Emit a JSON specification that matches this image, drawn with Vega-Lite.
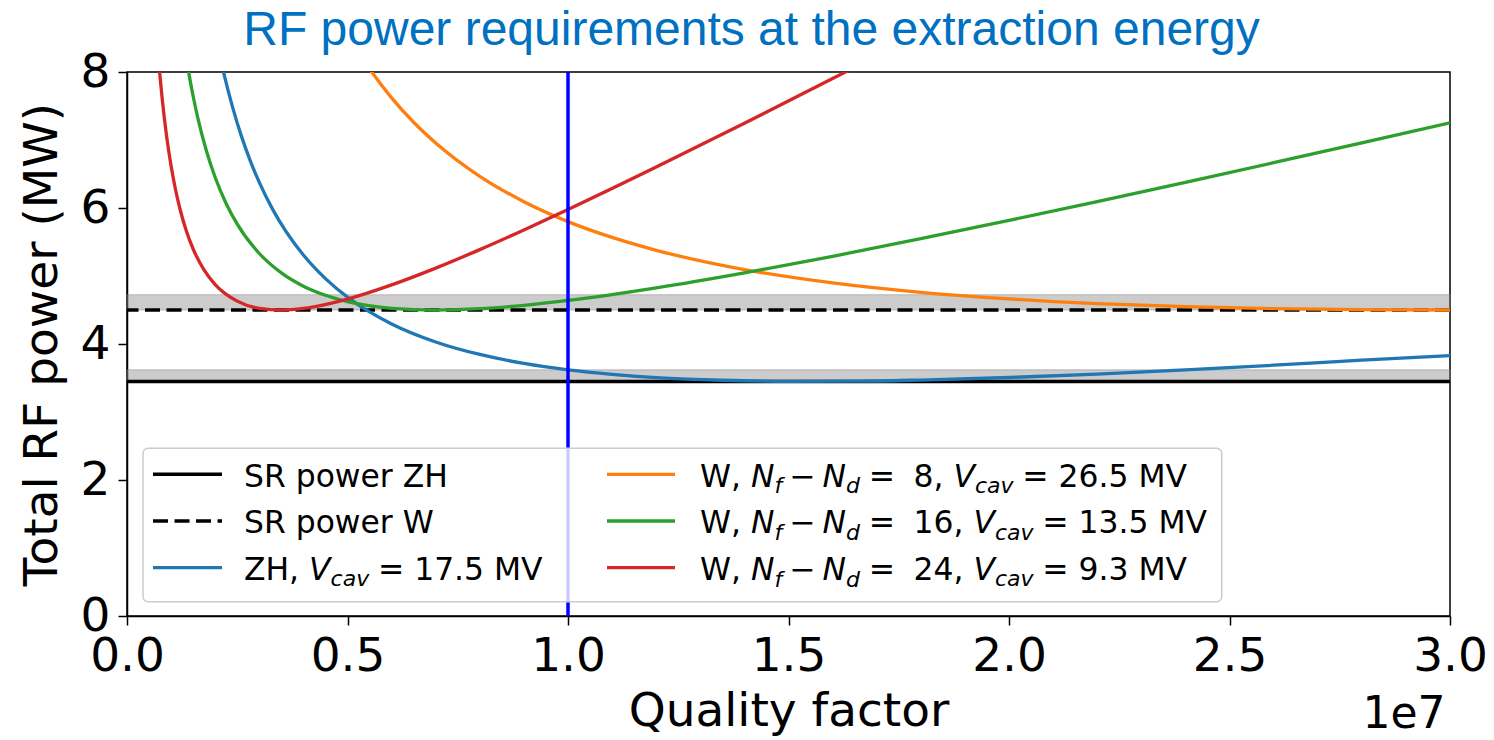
{
  "$schema": "https://vega.github.io/schema/vega-lite/v6.json",
  "width": 1323,
  "height": 544,
  "autosize": {"type": "none"},
  "padding": {"left": 127, "top": 72, "right": 44, "bottom": 124},
  "background": "white",
  "title": {
    "text": "RF power requirements at the extraction energy",
    "font": "Liberation Sans",
    "fontSize": 48,
    "fontWeight": "normal",
    "color": "#0070C0",
    "anchor": "middle",
    "frame": "group",
    "dx": -37,
    "dy": 9,
    "offset": 2
  },
  "config": {
    "font": "DejaVu Sans",
    "view": {"stroke": "black", "strokeWidth": 1.5},
    "axis": {
      "grid": false,
      "domainColor": "black",
      "domainWidth": 1.5,
      "tickColor": "black",
      "tickWidth": 1.5,
      "tickSize": 9,
      "labelFont": "DejaVu Sans",
      "labelFontSize": 47,
      "labelColor": "black",
      "titleFont": "DejaVu Sans",
      "titleFontSize": 47,
      "titleFontWeight": "normal",
      "titleColor": "black"
    }
  },
  "datasets": {
    "curves": [
      {"series": "ZH 17.5 MV", "q": 0.18, "p": 9.309},
      {"series": "ZH 17.5 MV", "q": 0.19, "p": 8.92},
      {"series": "ZH 17.5 MV", "q": 0.2, "p": 8.57},
      {"series": "ZH 17.5 MV", "q": 0.21, "p": 8.255},
      {"series": "ZH 17.5 MV", "q": 0.22, "p": 7.968},
      {"series": "ZH 17.5 MV", "q": 0.24, "p": 7.468},
      {"series": "ZH 17.5 MV", "q": 0.26, "p": 7.046},
      {"series": "ZH 17.5 MV", "q": 0.28, "p": 6.687},
      {"series": "ZH 17.5 MV", "q": 0.3, "p": 6.377},
      {"series": "ZH 17.5 MV", "q": 0.33, "p": 5.984},
      {"series": "ZH 17.5 MV", "q": 0.36, "p": 5.66},
      {"series": "ZH 17.5 MV", "q": 0.4, "p": 5.308},
      {"series": "ZH 17.5 MV", "q": 0.45, "p": 4.961},
      {"series": "ZH 17.5 MV", "q": 0.5, "p": 4.689},
      {"series": "ZH 17.5 MV", "q": 0.55, "p": 4.472},
      {"series": "ZH 17.5 MV", "q": 0.6, "p": 4.295},
      {"series": "ZH 17.5 MV", "q": 0.7, "p": 4.03},
      {"series": "ZH 17.5 MV", "q": 0.8, "p": 3.846},
      {"series": "ZH 17.5 MV", "q": 0.9, "p": 3.714},
      {"series": "ZH 17.5 MV", "q": 1.0, "p": 3.62},
      {"series": "ZH 17.5 MV", "q": 1.1, "p": 3.554},
      {"series": "ZH 17.5 MV", "q": 1.2, "p": 3.507},
      {"series": "ZH 17.5 MV", "q": 1.35, "p": 3.467},
      {"series": "ZH 17.5 MV", "q": 1.5, "p": 3.451},
      {"series": "ZH 17.5 MV", "q": 1.65, "p": 3.453},
      {"series": "ZH 17.5 MV", "q": 1.8, "p": 3.47},
      {"series": "ZH 17.5 MV", "q": 2.0, "p": 3.507},
      {"series": "ZH 17.5 MV", "q": 2.2, "p": 3.558},
      {"series": "ZH 17.5 MV", "q": 2.4, "p": 3.619},
      {"series": "ZH 17.5 MV", "q": 2.6, "p": 3.688},
      {"series": "ZH 17.5 MV", "q": 2.8, "p": 3.764},
      {"series": "ZH 17.5 MV", "q": 3.0, "p": 3.83},

      {"series": "W 8", "q": 0.5, "p": 8.563},
      {"series": "W 8", "q": 0.55, "p": 8.047},
      {"series": "W 8", "q": 0.6, "p": 7.62},
      {"series": "W 8", "q": 0.65, "p": 7.261},
      {"series": "W 8", "q": 0.7, "p": 6.956},
      {"series": "W 8", "q": 0.8, "p": 6.466},
      {"series": "W 8", "q": 0.9, "p": 6.093},
      {"series": "W 8", "q": 1.0, "p": 5.8},
      {"series": "W 8", "q": 1.1, "p": 5.567},
      {"series": "W 8", "q": 1.2, "p": 5.378},
      {"series": "W 8", "q": 1.4, "p": 5.094},
      {"series": "W 8", "q": 1.6, "p": 4.898},
      {"series": "W 8", "q": 1.8, "p": 4.76},
      {"series": "W 8", "q": 2.0, "p": 4.663},
      {"series": "W 8", "q": 2.2, "p": 4.595},
      {"series": "W 8", "q": 2.4, "p": 4.549},
      {"series": "W 8", "q": 2.6, "p": 4.52},
      {"series": "W 8", "q": 2.8, "p": 4.505},
      {"series": "W 8", "q": 3.0, "p": 4.5},

      {"series": "W 16", "q": 0.12, "p": 8.87},
      {"series": "W 16", "q": 0.13, "p": 8.396},
      {"series": "W 16", "q": 0.14, "p": 7.991},
      {"series": "W 16", "q": 0.15, "p": 7.643},
      {"series": "W 16", "q": 0.16, "p": 7.341},
      {"series": "W 16", "q": 0.18, "p": 6.841},
      {"series": "W 16", "q": 0.2, "p": 6.448},
      {"series": "W 16", "q": 0.225, "p": 6.063},
      {"series": "W 16", "q": 0.25, "p": 5.762},
      {"series": "W 16", "q": 0.3, "p": 5.331},
      {"series": "W 16", "q": 0.35, "p": 5.045},
      {"series": "W 16", "q": 0.4, "p": 4.85},
      {"series": "W 16", "q": 0.45, "p": 4.716},
      {"series": "W 16", "q": 0.5, "p": 4.624},
      {"series": "W 16", "q": 0.6, "p": 4.525},
      {"series": "W 16", "q": 0.7, "p": 4.499},
      {"series": "W 16", "q": 0.8, "p": 4.519},
      {"series": "W 16", "q": 0.9, "p": 4.569},
      {"series": "W 16", "q": 1.0, "p": 4.64},
      {"series": "W 16", "q": 1.2, "p": 4.825},
      {"series": "W 16", "q": 1.4, "p": 5.046},
      {"series": "W 16", "q": 1.6, "p": 5.29},
      {"series": "W 16", "q": 1.8, "p": 5.548},
      {"series": "W 16", "q": 2.0, "p": 5.818},
      {"series": "W 16", "q": 2.2, "p": 6.095},
      {"series": "W 16", "q": 2.4, "p": 6.378},
      {"series": "W 16", "q": 2.6, "p": 6.666},
      {"series": "W 16", "q": 2.8, "p": 6.957},
      {"series": "W 16", "q": 3.0, "p": 7.251},

      {"series": "W 24", "q": 0.06, "p": 9.265},
      {"series": "W 24", "q": 0.065, "p": 8.747},
      {"series": "W 24", "q": 0.07, "p": 8.304},
      {"series": "W 24", "q": 0.075, "p": 7.923},
      {"series": "W 24", "q": 0.08, "p": 7.593},
      {"series": "W 24", "q": 0.09, "p": 7.046},
      {"series": "W 24", "q": 0.1, "p": 6.617},
      {"series": "W 24", "q": 0.11, "p": 6.272},
      {"series": "W 24", "q": 0.12, "p": 5.989},
      {"series": "W 24", "q": 0.135, "p": 5.654},
      {"series": "W 24", "q": 0.15, "p": 5.397},
      {"series": "W 24", "q": 0.175, "p": 5.086},
      {"series": "W 24", "q": 0.2, "p": 4.874},
      {"series": "W 24", "q": 0.25, "p": 4.63},
      {"series": "W 24", "q": 0.3, "p": 4.524},
      {"series": "W 24", "q": 0.35, "p": 4.498},
      {"series": "W 24", "q": 0.4, "p": 4.523},
      {"series": "W 24", "q": 0.5, "p": 4.661},
      {"series": "W 24", "q": 0.6, "p": 4.869},
      {"series": "W 24", "q": 0.7, "p": 5.116},
      {"series": "W 24", "q": 0.8, "p": 5.388},
      {"series": "W 24", "q": 0.9, "p": 5.677},
      {"series": "W 24", "q": 1.0, "p": 5.978},
      {"series": "W 24", "q": 1.2, "p": 6.602},
      {"series": "W 24", "q": 1.4, "p": 7.247},
      {"series": "W 24", "q": 1.6, "p": 7.903},
      {"series": "W 24", "q": 1.7, "p": 8.235}
    ],
    "one": [{}]
  },
  "encoding": {
    "x": {
      "type": "quantitative",
      "scale": {"domain": [0, 3], "nice": false, "zero": false},
      "axis": {
        "title": "Quality factor",
        "values": [0, 0.5, 1, 1.5, 2, 2.5, 3],
        "format": ".1f",
        "labelPadding": 8,
        "titlePadding": 9,
        "labelFlush": false
      }
    },
    "y": {
      "type": "quantitative",
      "scale": {"domain": [0, 8], "nice": false, "zero": false},
      "axis": {
        "title": "Total RF power (MW)",
        "values": [0, 2, 4, 6, 8],
        "labelPadding": 8,
        "titlePadding": 14,
        "labelFlush": false
      }
    }
  },
  "layer": [
    {
      "description": "tolerance band above the ZH synchrotron-radiation power",
      "data": {"name": "one"},
      "mark": {"type": "rect", "fill": "#808080", "fillOpacity": 0.4, "stroke": "#808080", "strokeOpacity": 0.45, "strokeWidth": 1},
      "encoding": {"x": {"datum": 0}, "x2": {"datum": 3}, "y": {"datum": 3.45}, "y2": {"datum": 3.62}}
    },
    {
      "description": "tolerance band above the W synchrotron-radiation power",
      "data": {"name": "one"},
      "mark": {"type": "rect", "fill": "#808080", "fillOpacity": 0.4, "stroke": "#808080", "strokeOpacity": 0.45, "strokeWidth": 1},
      "encoding": {"x": {"datum": 0}, "x2": {"datum": 3}, "y": {"datum": 4.5}, "y2": {"datum": 4.725}}
    },
    {
      "description": "SR power ZH",
      "data": {"name": "one"},
      "mark": {"type": "rule", "color": "black", "strokeWidth": 3.5},
      "encoding": {"y": {"datum": 3.45}}
    },
    {
      "description": "SR power W",
      "data": {"name": "one"},
      "mark": {"type": "rule", "color": "black", "strokeWidth": 3.5, "strokeDash": [15, 6.5]},
      "encoding": {"y": {"datum": 4.5}}
    },
    {
      "data": {"name": "curves"},
      "mark": {"type": "line", "clip": true, "strokeWidth": 3.3, "interpolate": "monotone"},
      "encoding": {
        "x": {"field": "q", "type": "quantitative"},
        "y": {"field": "p", "type": "quantitative"},
        "color": {
          "field": "series",
          "type": "nominal",
          "scale": {
            "domain": ["ZH 17.5 MV", "W 8", "W 16", "W 24"],
            "range": ["#1f77b4", "#ff7f0e", "#2ca02c", "#d62728"]
          },
          "legend": null
        }
      }
    },
    {
      "description": "operating quality factor",
      "data": {"name": "one"},
      "mark": {"type": "rule", "color": "#0000ff", "strokeWidth": 3.5},
      "encoding": {"x": {"datum": 1}}
    },
    {
      "description": "legend frame",
      "data": {"name": "one"},
      "mark": {"type": "rect", "fill": "white", "fillOpacity": 0.8, "stroke": "#cccccc", "strokeWidth": 1.5, "cornerRadius": 5},
      "encoding": {"x": {"datum": 0.0363}, "x2": {"datum": 2.4823}, "y": {"datum": 2.466}, "y2": {"datum": 0.21}}
    },
    {
      "data": {"name": "one"},
      "mark": {"type": "rule", "color": "black", "strokeWidth": 3.5},
      "encoding": {"x": {"datum": 0.059}, "x2": {"datum": 0.2154}, "y": {"datum": 2.084}}
    },
    {
      "data": {"name": "one"},
      "mark": {"type": "rule", "color": "black", "strokeWidth": 3.5, "strokeDash": [15, 6.5]},
      "encoding": {"x": {"datum": 0.059}, "x2": {"datum": 0.2154}, "y": {"datum": 1.397}}
    },
    {
      "data": {"name": "one"},
      "mark": {"type": "rule", "color": "#1f77b4", "strokeWidth": 3.3},
      "encoding": {"x": {"datum": 0.059}, "x2": {"datum": 0.2154}, "y": {"datum": 0.71}}
    },
    {
      "data": {"name": "one"},
      "mark": {"type": "rule", "color": "#ff7f0e", "strokeWidth": 3.3},
      "encoding": {"x": {"datum": 1.0884}, "x2": {"datum": 1.2426}, "y": {"datum": 2.084}}
    },
    {
      "data": {"name": "one"},
      "mark": {"type": "rule", "color": "#2ca02c", "strokeWidth": 3.3},
      "encoding": {"x": {"datum": 1.0884}, "x2": {"datum": 1.2426}, "y": {"datum": 1.397}}
    },
    {
      "data": {"name": "one"},
      "mark": {"type": "rule", "color": "#d62728", "strokeWidth": 3.3},
      "encoding": {"x": {"datum": 1.0884}, "x2": {"datum": 1.2426}, "y": {"datum": 0.71}}
    },
    {
      "data": {"name": "one"},
      "mark": {"type": "text", "text": ["SR power ZH", "SR power W", "ZH,"], "align": "left", "baseline": "alphabetic", "fontSize": 31.4, "lineHeight": 46.7, "color": "black"},
      "encoding": {"x": {"datum": 0.2653}, "y": {"datum": 1.901}}
    },
    {
      "data": {"name": "one"},
      "mark": {"type": "text", "text": "V", "align": "left", "baseline": "alphabetic", "fontSize": 31.4, "fontStyle": "italic", "color": "black"},
      "encoding": {"x": {"datum": 0.4129}, "y": {"datum": 0.529}}
    },
    {
      "data": {"name": "one"},
      "mark": {"type": "text", "text": "cav", "align": "left", "baseline": "alphabetic", "fontSize": 22, "fontStyle": "italic", "color": "black"},
      "encoding": {"x": {"datum": 0.4617}, "y": {"datum": 0.434}}
    },
    {
      "data": {"name": "one"},
      "mark": {"type": "text", "text": "= 17.5 MV", "align": "left", "baseline": "alphabetic", "fontSize": 31.4, "color": "black"},
      "encoding": {"x": {"datum": 0.5689}, "y": {"datum": 0.529}}
    },
    {
      "data": {"name": "one"},
      "mark": {"type": "text", "text": ["W,", "W,", "W,"], "align": "left", "baseline": "alphabetic", "fontSize": 31.4, "lineHeight": 46.7, "color": "black"},
      "encoding": {"x": {"datum": 1.2993}, "y": {"datum": 1.901}}
    },
    {
      "data": {"name": "one"},
      "mark": {"type": "text", "text": ["N", "N", "N"], "align": "left", "baseline": "alphabetic", "fontSize": 31.4, "fontStyle": "italic", "lineHeight": 46.7, "color": "black"},
      "encoding": {"x": {"datum": 1.415}, "y": {"datum": 1.901}}
    },
    {
      "data": {"name": "one"},
      "mark": {"type": "text", "text": ["f", "f", "f"], "align": "left", "baseline": "alphabetic", "fontSize": 22, "fontStyle": "italic", "lineHeight": 46.7, "color": "black"},
      "encoding": {"x": {"datum": 1.4683}, "y": {"datum": 1.806}}
    },
    {
      "data": {"name": "one"},
      "mark": {"type": "text", "text": ["−", "−", "−"], "align": "left", "baseline": "alphabetic", "fontSize": 31.4, "lineHeight": 46.7, "color": "black"},
      "encoding": {"x": {"datum": 1.5016}, "y": {"datum": 1.901}}
    },
    {
      "data": {"name": "one"},
      "mark": {"type": "text", "text": ["N", "N", "N"], "align": "left", "baseline": "alphabetic", "fontSize": 31.4, "fontStyle": "italic", "lineHeight": 46.7, "color": "black"},
      "encoding": {"x": {"datum": 1.5771}, "y": {"datum": 1.901}}
    },
    {
      "data": {"name": "one"},
      "mark": {"type": "text", "text": ["d", "d", "d"], "align": "left", "baseline": "alphabetic", "fontSize": 22, "fontStyle": "italic", "lineHeight": 46.7, "color": "black"},
      "encoding": {"x": {"datum": 1.6304}, "y": {"datum": 1.806}}
    },
    {
      "data": {"name": "one"},
      "mark": {"type": "text", "text": ["=", "=", "="], "align": "left", "baseline": "alphabetic", "fontSize": 31.4, "lineHeight": 46.7, "color": "black"},
      "encoding": {"x": {"datum": 1.6819}, "y": {"datum": 1.901}}
    },
    {
      "data": {"name": "one"},
      "mark": {"type": "text", "text": ["8,", "16,", "24,"], "align": "left", "baseline": "alphabetic", "fontSize": 31.4, "lineHeight": 46.7, "color": "black"},
      "encoding": {"x": {"datum": 1.7837}, "y": {"datum": 1.901}}
    },
    {
      "data": {"name": "one"},
      "mark": {"type": "text", "text": "V", "align": "left", "baseline": "alphabetic", "fontSize": 31.4, "fontStyle": "italic", "color": "black"},
      "encoding": {"x": {"datum": 1.8741}, "y": {"datum": 1.901}}
    },
    {
      "data": {"name": "one"},
      "mark": {"type": "text", "text": ["V", "V"], "align": "left", "baseline": "alphabetic", "fontSize": 31.4, "fontStyle": "italic", "lineHeight": 46.7, "color": "black"},
      "encoding": {"x": {"datum": 1.9195}, "y": {"datum": 1.216}}
    },
    {
      "data": {"name": "one"},
      "mark": {"type": "text", "text": "cav", "align": "left", "baseline": "alphabetic", "fontSize": 22, "fontStyle": "italic", "color": "black"},
      "encoding": {"x": {"datum": 1.9229}, "y": {"datum": 1.806}}
    },
    {
      "data": {"name": "one"},
      "mark": {"type": "text", "text": ["cav", "cav"], "align": "left", "baseline": "alphabetic", "fontSize": 22, "fontStyle": "italic", "lineHeight": 46.7, "color": "black"},
      "encoding": {"x": {"datum": 1.9683}, "y": {"datum": 1.121}}
    },
    {
      "data": {"name": "one"},
      "mark": {"type": "text", "text": "= 26.5 MV", "align": "left", "baseline": "alphabetic", "fontSize": 31.4, "color": "black"},
      "encoding": {"x": {"datum": 2.0302}, "y": {"datum": 1.901}}
    },
    {
      "data": {"name": "one"},
      "mark": {"type": "text", "text": ["= 13.5 MV", "= 9.3 MV"], "align": "left", "baseline": "alphabetic", "fontSize": 31.4, "lineHeight": 46.7, "color": "black"},
      "encoding": {"x": {"datum": 2.0755}, "y": {"datum": 1.216}}
    },
    {
      "description": "scale factor of the x axis",
      "data": {"name": "one"},
      "mark": {"type": "text", "text": "1e7", "align": "right", "baseline": "alphabetic", "fontSize": 44, "color": "black"},
      "encoding": {"x": {"datum": 2.99}, "y": {"datum": -1.651}}
    }
  ]
}
